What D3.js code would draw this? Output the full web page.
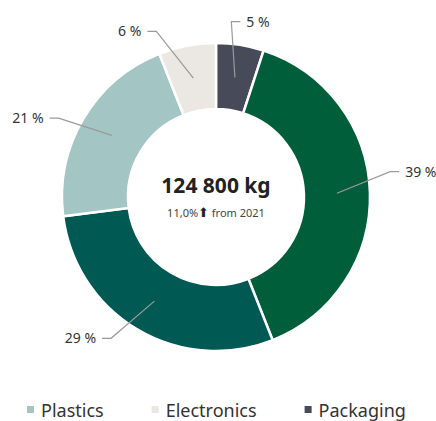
<!DOCTYPE html>
<html>
<head>
<meta charset="utf-8">
<title>Waste by category</title>
<script src="https://d3js.org/d3.v7.min.js"></script>
<style>
  body { margin: 0; background: #fff; }
  text { font-family: "Noto Sans", "DejaVu Sans", sans-serif; }
</style>
</head>
<body>
<script>

  // data
  var categories = ["Packaging", "Metal", "Paper", "Plastics", "Electronics"];
  var shares = [5, 39, 29, 21, 6];
  var colors = ["#474a59", "#005e3a", "#005953", "#a3c5c3", "#ebe7e3"];
  var legendKeys = ["Plastics", "Electronics", "Packaging"];
  var totalLabel = "124 800 kg";
  var changeValue = "11,0%";
  var changeText = " from 2021";

  // layout: label angle nudge (deg) so labels don't crowd
  var labelNudge = { Packaging: -4, Metal: -6.5, Paper: 6, Plastics: -4, Electronics: -9 };

  var width = 436, height = 421;
  var cx = 216, cy = 197;
  var outerR = 154, innerR = 88, labelR = 176;

  var svg = d3.select("body").append("svg")
      .attr("width", width)
      .attr("height", height);

  var rows = categories.map(function (c, i) { return { name: c, value: shares[i], color: colors[i] }; });

  var pie = d3.pie().sort(null).value(function (d) { return d.value; });
  var arc = d3.arc().innerRadius(innerR).outerRadius(outerR);
  var midArc = d3.arc().innerRadius((innerR + outerR) / 2).outerRadius((innerR + outerR) / 2);

  var g = svg.append("g").attr("transform", "translate(" + cx + "," + cy + ")");
  var arcs = pie(rows);

  g.selectAll("path.slice")
    .data(arcs)
    .enter().append("path")
    .attr("class", "slice")
    .attr("d", arc)
    .attr("fill", function (d) { return d.data.color; })
    .attr("stroke", "#fff")
    .attr("stroke-width", 2.5);

  // leader lines + labels
  arcs.forEach(function (d) {
    var mid = (d.startAngle + d.endAngle) / 2;
    var a = mid + (labelNudge[d.data.name] || 0) * Math.PI / 180;
    var side = Math.sin(a) >= 0 ? 1 : -1;
    var p0 = midArc.centroid(d);
    var p1 = [labelR * Math.sin(a), -labelR * Math.cos(a)];
    var p2 = [p1[0] + side * 9, p1[1]];

    g.append("polyline")
      .attr("points", [p0, p1, p2].map(function (p) { return p.join(","); }).join(" "))
      .attr("fill", "none")
      .attr("stroke", "#9a9a9a")
      .attr("stroke-width", 1.2);

    g.append("text")
      .attr("x", p2[0] + side * 6)
      .attr("y", p2[1])
      .attr("dy", "0.35em")
      .attr("text-anchor", side > 0 ? "start" : "end")
      .attr("font-size", 14)
      .attr("fill", "#333")
      .text(d.data.value + " %");
  });

  // center texts
  g.append("text")
    .attr("y", -4)
    .attr("text-anchor", "middle")
    .attr("font-size", 21)
    .attr("font-weight", "bold")
    .attr("fill", "#222")
    .text(totalLabel);

  var sub = g.append("text")
    .attr("y", 20)
    .attr("text-anchor", "middle")
    .attr("font-size", 11)
    .attr("fill", "#444");
  sub.append("tspan").text(changeValue);
  sub.append("tspan").attr("font-family", "DejaVu Sans").attr("font-size", 13).attr("fill", "#222").text("\u2B06");
  sub.append("tspan").text(changeText);

  // legend, laid out by text width
  var lg = svg.append("g").attr("transform", "translate(27,417)");
  var x = 0;
  legendKeys.forEach(function (k) {
    var item = lg.append("g").attr("transform", "translate(" + x + ",0)");
    item.append("rect")
      .attr("y", -11)
      .attr("width", 7)
      .attr("height", 7)
      .attr("fill", colors[categories.indexOf(k)]);
    var t = item.append("text")
      .attr("x", 14)
      .attr("font-size", 18)
      .attr("fill", "#333")
      .text(k);
    x += 14 + t.node().getComputedTextLength() + 48;
  });

</script>
</body>
</html>
